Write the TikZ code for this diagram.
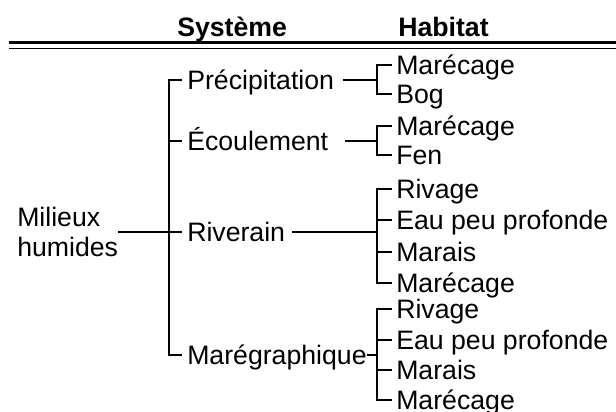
\documentclass[tikz,border=0pt]{standalone}
\usepackage{fontspec}
\setmainfont{Liberation Sans}
\usepackage{tikz}
\usetikzlibrary{positioning}
\tikzset{
    line/.style={line width=1.3pt},
    label/.style = {
      font=\fontsize{20}{22.5}\selectfont,
      anchor=west,
      inner xsep=3.75pt,
      inner ysep=0pt,
      text height=13.8pt,
      text depth=0pt
    },
    head/.style = {
      label,
      font=\fontsize{20}{22.5}\selectfont\bfseries,
      inner xsep=0pt
    },
    habitat/.style = {
      label,
      inner xsep=3pt
    },
    root/.style = {
      font=\fontsize{20}{22.5}\selectfont,
      anchor=west,
      inner sep=0pt,
      align=left
    },
}

\begin{document}
\begin{tikzpicture}[x=0.75pt, y=-0.75pt]
      \useasboundingbox (0,0) rectangle (616,411);

      % column heads and double rule
      \node [head] (systeme) at (177,27) {Système};
      \node [head] (habitathead) at (398,27) {Habitat};
      \draw[line width=1.9pt] (9,42.5) -- (616,42.5);
      \draw[line width=1.3pt] (9,48.5) -- (616,48.5);

      \node [root] (milieux) at (17,232) {Milieux\\humides};

      \node [label] (prec) at (182,80) {Précipitation};
      \node [label] (ecoul) at (182,141) {Écoulement};
      \node [label] (riv) at (182,232) {Riverain};
      \node [label] (mareg) at (182,355) {Marégraphique};

      \node [habitat] (hpa) at (392,65) {Marécage};
      \node [habitat] (hpb) at (392,94) {Bog};

      \node [habitat] (hea) at (392,126) {Marécage};
      \node [habitat] (heb) at (392,155) {Fen};

      \node [habitat] (hra) at (392,189) {Rivage};
      \node [habitat] (hrb) at (392,220) {Eau peu profonde};
      \node [habitat] (hrc) at (392,252) {Marais};
      \node [habitat] (hrd) at (392,283) {Marécage};

      \node [habitat] (hma) at (392,309) {Rivage};
      \node [habitat] (hmb) at (392,340) {Eau peu profonde};
      \node [habitat] (hmc) at (392,370) {Marais};
      \node [habitat] (hmd) at (392,400) {Marécage};

      % main trunk
      \coordinate (trunk) at (169,232);
      \draw[line] (prec.west) -| (trunk) |- (mareg.west);
      \draw[line] (ecoul.west) -- (ecoul.west -| trunk);
      \draw[line] (milieux.east) -- (riv.west);

      % habitat brackets
      \coordinate (bprec) at (377,80);
      \coordinate (becoul) at (377,141);
      \coordinate (briv) at (377,232);
      \coordinate (bmareg) at (377,355);

      \draw[line] ([xshift=2.5pt]prec.east) -- (bprec);
      \draw[line] (hpa.west) -| (bprec) |- (hpb.west);

      \draw[line] ([xshift=8.4pt]ecoul.east) -- (becoul);
      \draw[line] (hea.west) -| (becoul) |- (heb.west);

      \draw[line] ([xshift=1.6pt]riv.east) -- (briv);
      \draw[line] (hra.west) -| (briv) |- (hrd.west);
      \draw[line] (hrb.west) -- (hrb.west -| briv);
      \draw[line] (hrc.west) -- (hrc.west -| briv);

      \draw[line] ([xshift=-3.75pt]mareg.east) -- (bmareg);
      \draw[line] (hma.west) -| (bmareg) |- (hmd.west);
      \draw[line] (hmb.west) -- (hmb.west -| bmareg);
      \draw[line] (hmc.west) -- (hmc.west -| bmareg);
    \end{tikzpicture}
\end{document}
